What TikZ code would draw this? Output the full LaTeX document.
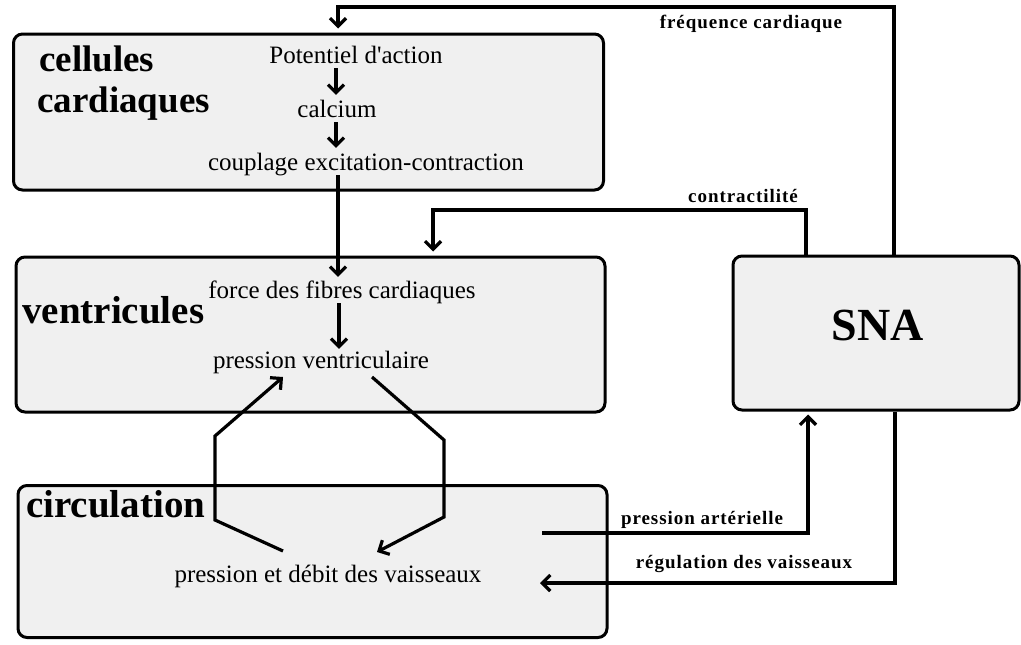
\documentclass[tikz,border=0pt]{standalone}
\usepackage{fontspec}
\setmainfont{Liberation Serif}
\newfontfamily\labfont[LetterSpace=5]{Liberation Serif}
\usetikzlibrary{arrows.meta}
\definecolor{boxgray}{HTML}{F0F0F0}
\begin{document}
\begin{tikzpicture}[x=1pt,y=-1pt,
  box/.style={draw=black, line width=3pt, fill=boxgray, rounded corners=9pt, inner sep=0pt},
  txt/.style={font=\fontsize{25}{30}\selectfont, inner sep=0pt, text height=17pt, text depth=5pt, anchor=base},
  big/.style={font=\fontsize{39}{44}\selectfont\bfseries, inner sep=0pt, anchor=base west},
  sna/.style={font=\fontsize{46}{52}\selectfont\bfseries, inner sep=0pt, anchor=base},
  lab/.style={font=\labfont\bfseries\fontsize{19}{22}\selectfont, inner sep=0pt, anchor=base},
  conn/.style={line width=3.2pt, line join=miter, -{Straight Barb[length=8pt,width=16pt]}}]
\useasboundingbox (0,0) rectangle (1021,645);
% boxes
\node[box, minimum width=590pt, minimum height=156pt] (box1) at (308.5,112) {};
\node[box, minimum width=589pt, minimum height=155pt] (box2) at (310.5,334.5) {};
\node[box, minimum width=589pt, minimum height=152pt] (box3) at (312.5,561.5) {};
\node[box, minimum width=286pt, minimum height=154pt] (snabox) at (876,333) {};
% texts
\node[big, font=\fontsize{37}{41}\selectfont\bfseries, anchor=north west, align=left] (tcell) at (37,46) {\hspace*{2pt}cellules\\cardiaques};
\node[big] (tvent) at (22,323) {ventricules};
\node[big] (tcirc) at (26,517) {circulation};
\node[sna] (tsna) at (878,340) {SNA};
\node[txt] (pot) at (356,63) {Potentiel d\textquotesingle action};
\node[txt] (calc) at (337,117) {calcium};
\node[txt] (coup) at (366,170) {couplage excitation-contraction};
\node[txt] (force) at (342,298) {force des fibres cardiaques};
\node[txt] (pv) at (321,368) {pression ventriculaire};
\node[txt] (ped) at (328,582) {pression et débit des vaisseaux};
\node[lab] (lfc) at (751,28) {fréquence cardiaque};
\node[lab] (lcon) at (743,202) {contractilité};
\node[lab] (lpa) at (702,524) {pression artérielle};
\node[lab] (lrv) at (744,568) {régulation des vaisseaux};
% coordinates
\coordinate (xa) at (336,0);
\coordinate (xb) at (339,0);
\coordinate (f1) at (894,7);
\coordinate (f2) at (338,7);
\coordinate (c1) at (806,210);
\coordinate (c2) at (433,210);
\coordinate (p1) at (542,533);
\coordinate (p2) at (808,533);
\coordinate (r1) at (895,583);
\coordinate (r2) at (540,583);
\coordinate (l0) at (283,551);
\coordinate (l1) at (215,520);
\coordinate (l2) at (215,436);
\coordinate (l3) at (283,377);
\coordinate (q0) at (372,377);
\coordinate (q1) at (444,440);
\coordinate (q2) at (444,517);
\coordinate (q3) at (377,552);
% connectors
\draw[conn] (pot.south -| xa) -- ([yshift=5pt]calc.north -| xa);
\draw[conn] (calc.south -| xa) -- ([yshift=5pt]coup.north -| xa);
\draw[conn] (coup.south -| f2) -- ([yshift=4pt]force.north -| f2);
\draw[conn] (force.south -| xb) -- ([yshift=2pt]pv.north -| xb);
\draw[conn] (snabox.north -| f1) -- (f1) -- (f2) -- ([yshift=4pt]box1.north -| f2);
\draw[conn] (snabox.north -| c1) -- (c1) -- (c2) -- ([yshift=4pt]box2.north -| c2);
\draw[conn] (p1) -- (p2) -- ([yshift=-3pt]snabox.south -| p2);
\draw[conn] (snabox.south -| r1) -- (r1) -- (r2);
\draw[conn] (l0) -- (l1) -- (l2) -- (l3);
\draw[conn] (q0) -- (q1) -- (q2) -- (q3);
\end{tikzpicture}
\end{document}
